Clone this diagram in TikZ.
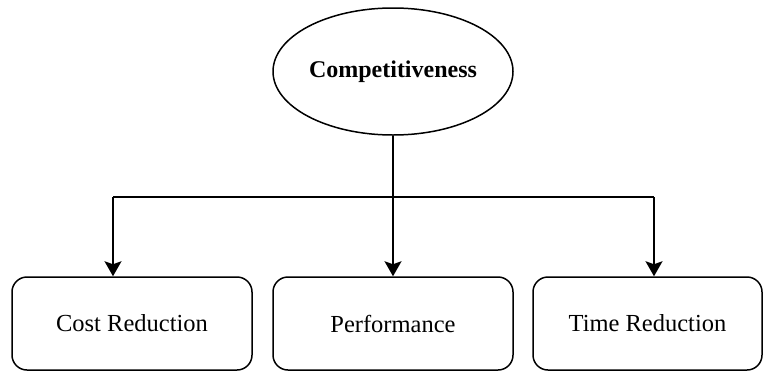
\documentclass[tikz,border=0pt]{standalone}
\usepackage{fontspec}
\setmainfont{Liberation Serif}
\usetikzlibrary{shapes.geometric,arrows.meta}
\begin{document}
\begin{tikzpicture}[x=1pt,y=-1pt,
  line width=1.5pt,
  topic/.style={draw,ellipse,minimum width=240pt,minimum height=127pt,inner sep=0pt,font=\fontsize{24}{28}\selectfont\bfseries},
  leaf/.style={draw,rectangle,rounded corners=15pt,minimum height=93pt,inner sep=0pt,font=\fontsize{24.5}{28}\selectfont},
  arr/.style={-{Stealth[width=17pt,length=15pt,inset=3pt]}}]
\useasboundingbox (0,0) rectangle (765,370);
\node[topic] (comp) at (393,71.5) {Competitiveness};
\node[leaf,minimum width=240pt] (cost) at (132,323.5) {Cost Reduction};
\node[leaf,minimum width=240pt] (perf) at (393,323.5) {Performance};
\node[leaf,minimum width=229pt] (time) at (647.5,323.5) {Time Reduction};
\coordinate (j) at (393,197);
\coordinate (jl) at (113,197);
\coordinate (jr) at (654,197);
\draw (comp.south) -- (j);
\draw (jl) -- (jr);
\draw[arr] (jl) -- (cost.north -| jl);
\draw[arr] (j) -- (perf.north);
\draw[arr] (jr) -- (time.north -| jr);
\end{tikzpicture}
\end{document}
